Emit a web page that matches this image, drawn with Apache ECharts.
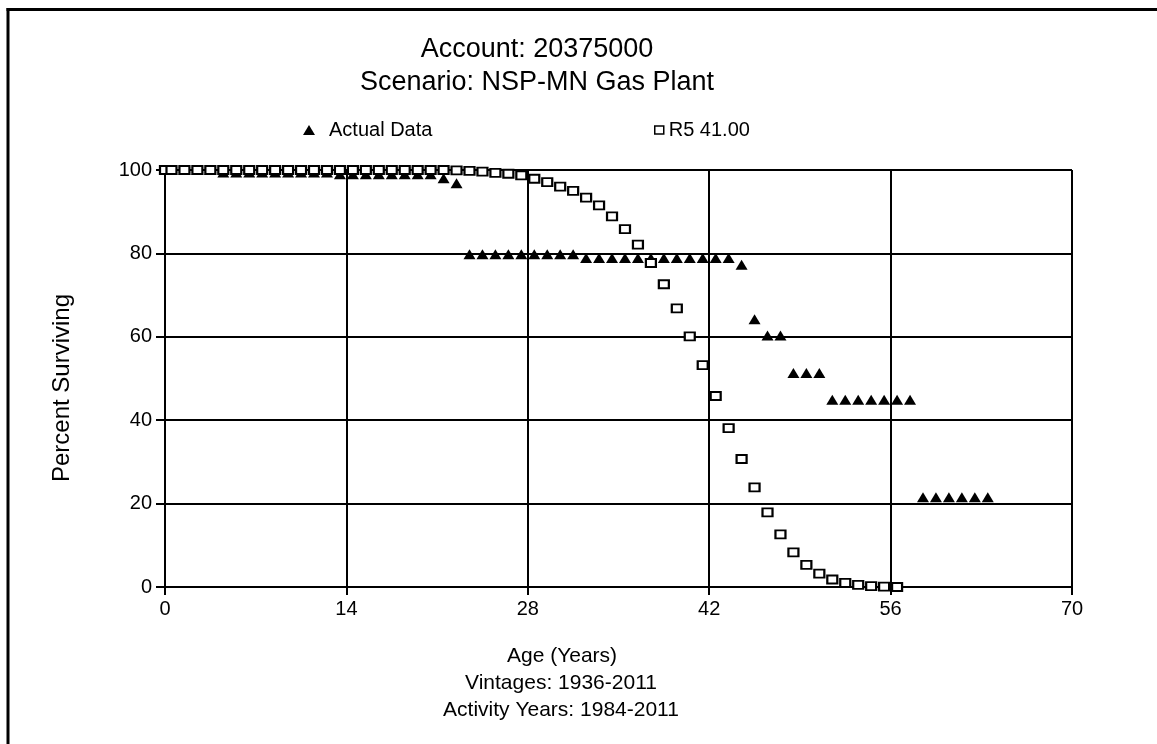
<!DOCTYPE html>
<html>
<head>
<meta charset="utf-8">
<script src="https://cdn.jsdelivr.net/npm/echarts@6/dist/echarts.min.js"></script>
<style>
  html, body { margin: 0; padding: 0; background: #fff; }
  #chart { width: 1157px; height: 744px; }
</style>
</head>
<body>
<div id="chart"></div>
<script>
// Observed survivorship (Actual Data) by age
const actualAges = [0, 0.5, 1.5, 2.5, 3.5, 4.5, 5.5, 6.5, 7.5, 8.5, 9.5, 10.5, 11.5, 12.5,
  13.5, 14.5, 15.5, 16.5, 17.5, 18.5, 19.5, 20.5, 21.5, 22.5, 23.5, 24.5, 25.5, 26.5,
  27.5, 28.5, 29.5, 30.5, 31.5, 32.5, 33.5, 34.5, 35.5, 36.5, 37.5, 38.5, 39.5, 40.5,
  41.5, 42.5, 43.5, 44.5, 45.5, 46.5, 47.5, 48.5, 49.5, 50.5, 51.5, 52.5, 53.5, 54.5,
  55.5, 56.5, 57.5, 58.5, 59.5, 60.5, 61.5, 62.5, 63.5];
const actualPct = [100, 100, 100, 100, 100, 99.4, 99.4, 99.4, 99.4, 99.4, 99.4, 99.4, 99.4, 99.4,
  99.0, 99.0, 99.0, 99.0, 99.0, 99.0, 99.0, 99.0, 98.0, 96.8, 79.8, 79.8, 79.8, 79.8,
  79.8, 79.8, 79.8, 79.8, 79.8, 78.9, 78.9, 78.9, 78.9, 78.9, 78.9, 78.9, 78.9, 78.9,
  78.9, 78.9, 78.9, 77.3, 64.2, 60.3, 60.3, 51.3, 51.3, 51.3, 44.9, 44.9, 44.9, 44.9,
  44.9, 44.9, 44.9, 21.5, 21.5, 21.5, 21.5, 21.5, 21.5];

// Fitted Iowa R5 curve, average life 41.00
const curveAges = [0, 0.5, 1.5, 2.5, 3.5, 4.5, 5.5, 6.5, 7.5, 8.5, 9.5, 10.5, 11.5, 12.5,
  13.5, 14.5, 15.5, 16.5, 17.5, 18.5, 19.5, 20.5, 21.5, 22.5, 23.5, 24.5, 25.5, 26.5,
  27.5, 28.5, 29.5, 30.5, 31.5, 32.5, 33.5, 34.5, 35.5, 36.5, 37.5, 38.5, 39.5, 40.5,
  41.5, 42.5, 43.5, 44.5, 45.5, 46.5, 47.5, 48.5, 49.5, 50.5, 51.5, 52.5, 53.5, 54.5,
  55.5, 56.5];
const curvePct = [100, 100, 100, 100, 100, 100, 100, 100, 100, 100, 100, 100, 100, 100,
  100, 100, 100, 100, 100, 100, 100, 100, 100, 99.9, 99.8, 99.6, 99.3, 99.1,
  98.7, 97.9, 97.1, 96.0, 95.0, 93.4, 91.5, 88.9, 85.8, 82.1, 77.7, 72.6, 66.8, 60.1,
  53.2, 45.8, 38.1, 30.7, 23.9, 17.9, 12.6, 8.3, 5.3, 3.2, 1.8, 1.0, 0.5, 0.2,
  0.1, 0.0];

const titleLines = ['Account: 20375000', 'Scenario: NSP-MN Gas Plant'];
const seriesNames = ['Actual Data', 'R5 41.00'];
const xTitleLines = ['Age (Years)', 'Vintages: 1936-2011', 'Activity Years: 1984-2011'];
const yTitle = 'Percent Surviving';

const FONT = '"Liberation Sans", Arial, sans-serif';

const actualData = actualAges.map((a, i) => [a, actualPct[i]]);
const curveData = curveAges.map((a, i) => [a, curvePct[i]]);

const chart = echarts.init(document.getElementById('chart'), null, { renderer: 'canvas' });

const textStyle = (size) => ({ fontFamily: FONT, fontSize: size, fill: '#000' });
const centred = (text, x, y, size) => ({
  type: 'text',
  style: Object.assign({ text: text, x: x, y: y, textAlign: 'center', textVerticalAlign: 'middle' }, textStyle(size))
});

chart.setOption({
  backgroundColor: '#fff',
  animation: false,
  grid: { left: 165, right: 85, top: 170, bottom: 157, containLabel: false },
  legend: [
    {
      data: [seriesNames[0]], left: 298, top: 115,
      itemWidth: 12, itemHeight: 10, icon: 'triangle',
      textStyle: { fontFamily: FONT, fontSize: 20, color: '#000', padding: [0, 0, 0, 9] }
    },
    {
      data: [seriesNames[1]], left: 649, top: 115,
      itemWidth: 9, itemHeight: 8, icon: 'rect',
      itemStyle: { color: '#fff', borderColor: '#000', borderWidth: 1.5 },
      textStyle: { fontFamily: FONT, fontSize: 20, color: '#000', padding: [0, 0, 0, 0] }
    }
  ],
  xAxis: {
    type: 'value', min: 0, max: 70, interval: 14,
    axisLine: { show: true, lineStyle: { color: '#000', width: 2 } },
    axisTick: { show: true, length: 8, lineStyle: { color: '#000', width: 2 } },
    axisLabel: { margin: 12, color: '#000', fontFamily: FONT, fontSize: 20 },
    splitLine: { show: true, lineStyle: { color: '#000', width: 2 } }
  },
  yAxis: {
    type: 'value', min: 0, max: 100, interval: 20,
    axisLine: { show: true, lineStyle: { color: '#000', width: 2 } },
    axisTick: { show: true, length: 9, lineStyle: { color: '#000', width: 2 } },
    axisLabel: { margin: 13, color: '#000', fontFamily: FONT, fontSize: 20 },
    splitLine: { show: true, lineStyle: { color: '#000', width: 2 } }
  },
  series: [
    {
      name: seriesNames[0], type: 'scatter', data: actualData,
      symbol: 'triangle', symbolSize: [12, 10],
      itemStyle: { color: '#000', opacity: 1 }, z: 3
    },
    {
      name: seriesNames[1], type: 'scatter', data: curveData,
      symbol: 'rect', symbolSize: [10, 8],
      itemStyle: { color: '#fff', borderColor: '#000', borderWidth: 2, opacity: 1 }, z: 4
    }
  ],
  graphic: [
    // page frame, top and left edges
    { type: 'line', shape: { x1: 6.5, y1: 9.5, x2: 1157, y2: 9.5 }, style: { stroke: '#000', lineWidth: 3 } },
    { type: 'line', shape: { x1: 8, y1: 8, x2: 8, y2: 744 }, style: { stroke: '#000', lineWidth: 3 } },
    centred(titleLines[0], 537, 50, 27),
    centred(titleLines[1], 537, 83, 27),
    {
      type: 'text', x: 62, y: 388, rotation: Math.PI / 2,
      style: Object.assign({ text: yTitle, x: 0, y: 0, textAlign: 'center', textVerticalAlign: 'middle' }, textStyle(24))
    },
    centred(xTitleLines[0], 562, 656, 21),
    centred(xTitleLines[1], 561, 683, 21),
    centred(xTitleLines[2], 561, 710, 21)
  ]
});
</script>
</body>
</html>
